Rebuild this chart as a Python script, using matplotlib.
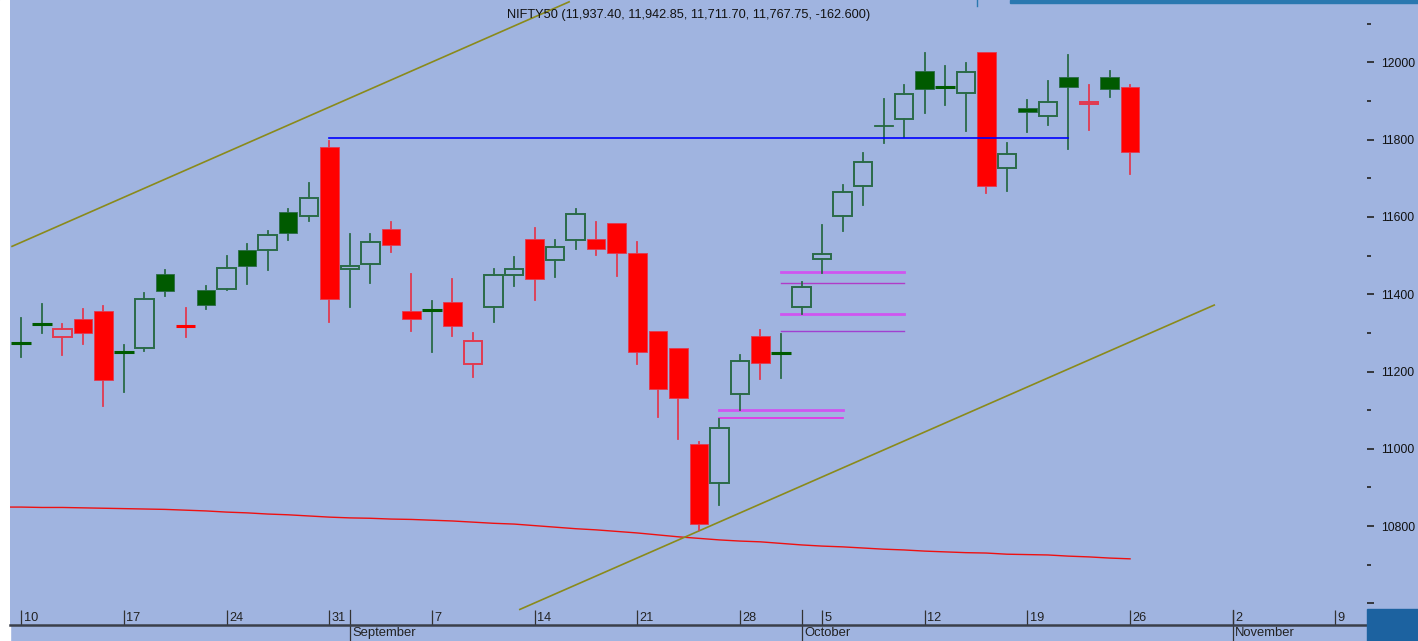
import matplotlib
matplotlib.use("Agg")
import matplotlib.pyplot as plt
from matplotlib.patches import Rectangle
from matplotlib.transforms import blended_transform_factory
import numpy as np

plt.rcParams['font.family'] = ['Liberation Sans', 'DejaVu Sans']

# daily candles, index 0 = 10 Aug 2020 (trading days only)
opens = [11273, 11324, 11289, 11337, 11356, 11250, 11260, 11452, 11317, 11412,
         11414, 11515, 11514, 11613, 11603, 11780, 11465, 11479, 11569, 11357,
         11359, 11380, 11219, 11366, 11449, 11542, 11488, 11540, 11542, 11585,
         11507, 11305, 11262, 11012, 10911, 11141, 11291, 11248, 11366, 11490,
         11603, 11681, 11839, 11854, 11977, 11937, 11920, 12026, 11728, 11883,
         11862, 11962, 11892, 11962, 11937.4]
highs = [11339, 11375, 11323, 11361, 11369, 11268, 11402, 11463, 11364, 11421,
         11498, 11529, 11563, 11620, 11688, 11797, 11555, 11555, 11587, 11452,
         11382, 11440, 11299, 11465, 11496, 11572, 11540, 11620, 11587, 11585,
         11536, 11305, 11262, 11017, 11076, 11242, 11307, 11296, 11431, 11580,
         11683, 11766, 11906, 11942, 12024, 11990, 11999, 12028, 11791, 11902,
         11953, 12020, 11942, 11977, 11942.85]
lows = [11238, 11300, 11244, 11271, 11111, 11146, 11254, 11395, 11290, 11363,
        11411, 11426, 11463, 11541, 11590, 11327, 11368, 11430, 11509, 11304,
        11251, 11293, 11186, 11327, 11422, 11384, 11444, 11516, 11501, 11446,
        11219, 11083, 11025, 10790, 10854, 11100, 11181, 11184, 11350, 11454,
        11564, 11630, 11792, 11806, 11868, 11890, 11822, 11663, 11668, 11821,
        11838, 11776, 11824, 11911, 11711.7]
closes = [11273, 11324, 11309, 11300, 11179, 11250, 11388, 11408, 11317, 11373,
          11469, 11474, 11553, 11559, 11649, 11388, 11472, 11536, 11527, 11335,
          11359, 11319, 11280, 11450, 11466, 11440, 11523, 11607, 11516, 11506,
          11251, 11154, 11132, 10806, 11053, 11228, 11221, 11248, 11418, 11503,
          11664, 11742, 11835, 11918, 11932, 11937, 11975, 11681, 11762, 11873,
          11899, 11937, 11899, 11932, 11767.75]

# moving average, from index -1
ma_idx = list(range(-1, 55))
ma_vals = [10849, 10849, 10848, 10848, 10847, 10846, 10845, 10844, 10843, 10841,
           10839, 10836, 10834, 10831, 10829, 10826, 10823, 10821, 10820, 10818,
           10817, 10815, 10813, 10810, 10807, 10805, 10801, 10797, 10793, 10790,
           10786, 10782, 10777, 10772, 10768, 10764, 10761, 10759, 10755, 10751,
           10748, 10746, 10743, 10740, 10738, 10735, 10733, 10731, 10730, 10727,
           10726, 10725, 10722, 10720, 10717, 10715]

# drawn lines
upper_trend = ([-0.45, 26.68], [11524, 12157])
lower_trend = ([24.28, 58.1], [10584, 11372])
blue_line = ([15, 51], 11805)
mag_a = [(34, 40, 11100, '#cf55f0', 2.0), (34, 40, 11079, '#e62ee6', 1.2)]
mag_b = [(37, 43, 11458, '#cf55f0', 2.0), (37, 43, 11428, '#b03cc8', 1.0),
         (37, 43, 11350, '#cf55f0', 2.0), (37, 43, 11304, '#a040d0', 1.0)]

week_idx = [0, 5, 10, 15, 20, 25, 30, 35, 39, 44, 49, 54, 59, 64]
week_lbl = ['10', '17', '24', '31', '7', '14', '21', '28', '5', '12', '19', '26', '2', '9']
month_idx = [16, 38, 59]
month_lbl = ['September', 'October', 'November']

bg = '#a0b4e0'
green_fill = '#005a00'
green_edge = '#2a6a48'
red_fill = '#ff0000'
red_edge = '#e23a50'

W, H = 1418, 641
fig = plt.figure(figsize=(W / 100, H / 100), dpi=100, facecolor=bg)
ax = fig.add_axes([10 / W, 16 / H, (1367 - 10) / W, 625 / H])
ax.set_facecolor(bg)
ax.set_xlim(-0.55, 65.54)
ax.set_ylim(10543.7, 12161.8)

# white strip on left, blue decorations
fig.patches.append(Rectangle((0, 0), 10 / W, 1, transform=fig.transFigure,
                             color='white', zorder=-1))
fig.patches.append(Rectangle((1010 / W, 1 - 3 / H), 408 / W, 3 / H,
                             transform=fig.transFigure, color='#2a78b0', zorder=5))
fig.patches.append(Rectangle((1367 / W, 0), 51 / W, 32 / H,
                             transform=fig.transFigure, color='#1c62a0', zorder=5))
fig.lines.append(plt.Line2D([977 / W, 977 / W], [1, 1 - 6 / H],
                            transform=fig.transFigure, color='#2a78b0', lw=1))

bw = 0.9
for i in range(len(opens)):
    o, h, l, c = opens[i], highs[i], lows[i], closes[i]
    prev = closes[i - 1] if i > 0 else o
    up = c >= prev
    fill = green_fill if up else red_fill
    edge = green_edge if up else red_edge
    wick = green_edge if up else red_edge
    lo_b, hi_b = min(o, c), max(o, c)
    if o == c:
        ax.plot([i, i], [l, h], color=wick, lw=1.3, zorder=3)
        ax.plot([i - 0.48, i + 0.48], [o, o], color=fill,
                lw=2.2, zorder=4, solid_capstyle='butt')
        continue
    ax.plot([i, i], [l, lo_b], color=wick, lw=1.3, zorder=3)
    ax.plot([i, i], [hi_b, h], color=wick, lw=1.3, zorder=3)
    if c > o:
        ax.add_patch(Rectangle((i - bw / 2, lo_b), bw, hi_b - lo_b,
                               facecolor='none', edgecolor=edge, lw=1.4, zorder=4))
    else:
        ax.add_patch(Rectangle((i - bw / 2, lo_b), bw, hi_b - lo_b,
                               facecolor=fill, edgecolor=edge, lw=0.6, zorder=4))

ax.plot(ma_idx, ma_vals, color='#ee1111', lw=1.0, zorder=2)
ax.plot(upper_trend[0], upper_trend[1], color='#8a8a1a', lw=1.2, zorder=2)
ax.plot(lower_trend[0], lower_trend[1], color='#8a8a1a', lw=1.2, zorder=2)
ax.plot(blue_line[0], [blue_line[1]] * 2, color='#0000ff', lw=1.2, zorder=5)
for x0, x1, v, col, lw in mag_a + mag_b:
    ax.plot([x0, x1], [v, v], color=col, lw=lw, zorder=2)

# axes styling
for s in ['top', 'left', 'right']:
    ax.spines[s].set_visible(False)
ax.spines['bottom'].set_color('#3a3f4a')
ax.spines['bottom'].set_linewidth(1.8)

ax.yaxis.tick_right()
ax.set_yticks(np.arange(10600, 12001, 200))
ax.set_yticklabels([''] + [str(v) for v in range(10800, 12001, 200)])
ax.set_yticks(np.arange(10700, 12101, 200), minor=True)
ax.tick_params(axis='y', which='major', direction='out', length=5, width=1.2,
               color='#222222', labelsize=8.8, pad=5, labelcolor='#111111')
ax.tick_params(axis='y', which='minor', direction='out', length=3, width=1.2,
               color='#222222')

ax.set_xticks(week_idx)
ax.set_xticklabels([])
ax.tick_params(axis='x', which='major', direction='in', length=11, width=0.9,
               color='#333333')

tr = blended_transform_factory(ax.transData, ax.transAxes)
for i, t in zip(week_idx, week_lbl):
    ax.text(i + 0.12, 0.0115, t, transform=tr, fontsize=9.2, color='#222222',
            ha='left', va='center')
for i, t in zip(month_idx, month_lbl):
    ax.plot([i, i], [0.024, -0.0256], transform=tr, color='#333333', lw=0.9,
            clip_on=False)
    ax.text(i + 0.12, -0.0133, t, transform=tr, fontsize=9.4, color='#222222',
            ha='left', va='center', clip_on=False)

fig.text(507 / W, 1 - 15 / H,
         'NIFTY50 (11,937.40, 11,942.85, 11,711.70, 11,767.75, -162.600)',
         fontsize=9.2, color='#111111', ha='left', va='center')

fig.savefig('out.png', dpi=100, facecolor=bg)
